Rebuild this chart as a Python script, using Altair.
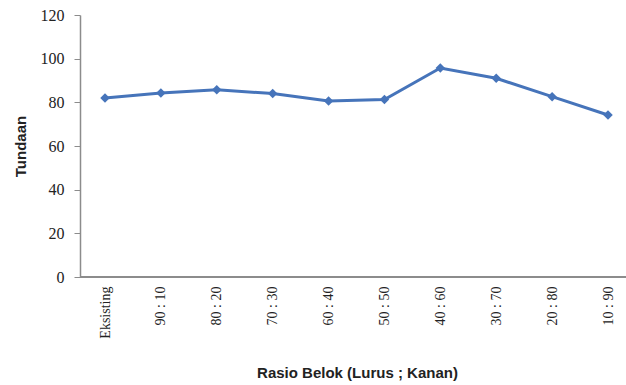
import altair as alt
import pandas as pd

# Turning ratio scenarios (straight ; right) and the resulting delay
categories = ["Eksisting", "90 : 10", "80 : 20", "70 : 30", "60 : 40",
              "50 : 50", "40 : 60", "30 : 70", "20 : 80", "10 : 90"]
tundaan = [82.0, 84.3, 85.8, 84.0, 80.6, 81.3, 95.7, 91.0, 82.6, 74.2]

df = pd.DataFrame({"rasio": categories, "tundaan": tundaan})

LINE_COLOR = "#4674ba"
AXIS_COLOR = "#8c8c8c"
TEXT_COLOR = "#222222"
PLOT_W = 546
PLOT_H = 262

x_enc = alt.X(
    "rasio:N",
    sort=categories,
    scale=alt.Scale(type="point", range=[25, 528], padding=0),
    axis=alt.Axis(
        title="Rasio Belok (Lurus ; Kanan)",
        labelAngle=-90,
        labelFont="Liberation Serif",
        labelFontSize=14,
        labelColor=TEXT_COLOR,
        labelPadding=9,
        ticks=False,
        domain=False,
        titleFont="Liberation Sans",
        titleFontSize=15,
        titleFontWeight="bold",
        titleColor=TEXT_COLOR,
        titleX=277,
        titleY=95,
        titleAlign="center",
        titleBaseline="middle",
    ),
)

y_enc = alt.Y(
    "tundaan:Q",
    scale=alt.Scale(domain=[0, 120], nice=False, zero=True),
    axis=alt.Axis(
        title="Tundaan",
        values=[0, 20, 40, 60, 80, 100, 120],
        labelFont="Liberation Serif",
        labelFontSize=16,
        labelColor=TEXT_COLOR,
        labelPadding=10,
        tickSize=6,
        tickColor=AXIS_COLOR,
        domainColor=AXIS_COLOR,
        domainWidth=1.5,
        grid=False,
        titleFont="Liberation Sans",
        titleFontSize=15,
        titleFontWeight="bold",
        titleColor=TEXT_COLOR,
        titleAngle=-90,
        titleX=-60,
        titleY=131,
        titleAlign="center",
        titleBaseline="middle",
    ),
)

# category axis baseline spanning the full plot width at Tundaan = 0
baseline = alt.Chart(df).mark_rule(color=AXIS_COLOR, strokeWidth=1.5).encode(
    x=alt.value(0), x2=alt.value(PLOT_W), y=alt.datum(0)
)
line = alt.Chart(df).mark_line(color=LINE_COLOR, strokeWidth=3).encode(x=x_enc, y=y_enc)
points = alt.Chart(df).mark_point(
    shape="diamond", filled=True, size=90, color=LINE_COLOR, opacity=1
).encode(x=x_enc, y=y_enc)

chart = (
    alt.layer(line, points, baseline)
    .properties(
        width=PLOT_W,
        height=PLOT_H,
        autosize=alt.AutoSizeParams(type="none"),
        padding={"left": 80, "top": 15, "right": 0, "bottom": 108},
        background="white",
    )
    .configure_view(stroke=None)
)

chart.save("out.html", embed_options={"renderer": "svg", "actions": False})
